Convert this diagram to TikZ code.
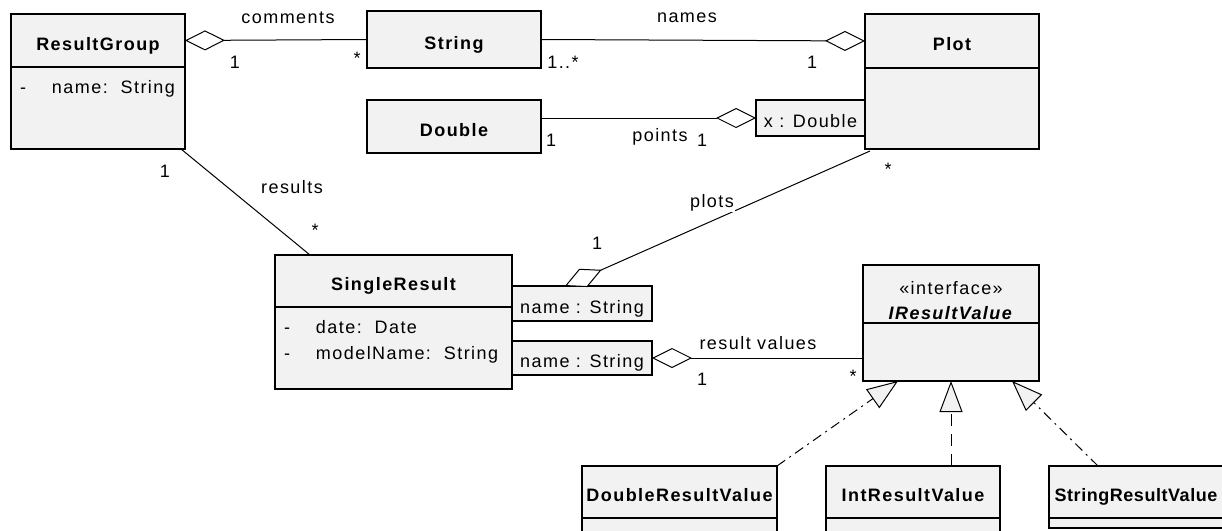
\documentclass[tikz,border=0pt]{standalone}
\usepackage{fontspec}
\setmainfont{Liberation Sans}[LetterSpace=8]
\usetikzlibrary{arrows.meta,positioning}
\definecolor{boxgray}{HTML}{F2F2F2}

\begin{document}
\begin{tikzpicture}[x=1pt,y=-1pt]
  \tikzset{
    every node/.style={font=\fontsize{18}{21}\selectfont, inner sep=0pt, outer sep=0pt},
    boxline/.style={draw, line width=1.4pt, fill=boxgray},
    head/.style={boxline, anchor=north west, font=\fontsize{18}{21}\selectfont\bfseries,
      text height=19.5pt, text depth=0pt},
    body/.style={boxline, below=0pt of #1},
    qual/.style={boxline, anchor=north west, text height=19.5pt, text depth=0pt},
    attrs/.style={anchor=north west, align=left, font=\fontsize{18}{26}\selectfont},
    assoc/.style={draw, line width=1pt},
    aggrstart/.style={assoc, arrows={Diamond[length=40pt,width=20pt,fill=white]-}},
    aggrend/.style={assoc, arrows={-Diamond[length=40pt,width=20pt,fill=white]}},
    realize/.style={assoc, arrows={-Triangle[length=31pt,width=23pt,fill=boxgray]}},
    dashdot/.style={dash pattern=on 10pt off 5pt on 2pt off 5pt}
  }
  \useasboundingbox (0,0) rectangle (1222,530);
  \clip (0,0) rectangle (1222,530);

  % classes
  \node[head, minimum width=174, minimum height=53] (rghead) at (11,14) {ResultGroup};
  \node[body=rghead, minimum width=174, minimum height=82] (rgbody) {};
  \node[attrs] (rgattr) at ([shift={(9pt,-13pt)}]rgbody.north west)
    {\makebox[32pt][l]{-}name:\ \ String};

  \node[head, minimum width=174, minimum height=57] (strbox) at (367,11) {String};
  \node[head, minimum width=174, minimum height=53] (dblbox) at (367,100) {Double};

  \node[head, minimum width=174, minimum height=54] (plothead) at (865,14) {Plot};
  \node[body=plothead, minimum width=174, minimum height=81] (plotbody) {};
  \node[qual, minimum width=109, minimum height=36] (xq) at (756,100) {x : Double};

  \node[head, minimum width=237, minimum height=52] (srhead) at (275,255) {SingleResult};
  \node[body=srhead, minimum width=237, minimum height=82] (srbody) {};
  \node[attrs] (srattr) at ([shift={(9pt,-13pt)}]srbody.north west)
    {\makebox[32pt][l]{-}date:\ \ Date\\
     \makebox[32pt][l]{-}modelName:\ \ String};
  \node[qual, minimum width=140, minimum height=35] (q1) at (512,286) {name : String};
  \node[qual, minimum width=140, minimum height=34] (q2) at (512,341) {name : String};

  \node[boxline, anchor=north west, minimum width=176, minimum height=58] (irvhead) at (863,265) {};
  \node[align=center, font=\fontsize{18}{25}\selectfont] (irvtitle) at ([yshift=-6.5pt]irvhead.center)
    {«interface»\\ \textbf{\textit{IResultValue}}};
  \node[body=irvhead, minimum width=176, minimum height=58] (irvbody) {};

  \node[head, minimum width=195, minimum height=52] (drvhead) at (582,466) {DoubleResultValue};
  \node[body=drvhead, minimum width=195, minimum height=40] (drvbody) {};
  \node[head, minimum width=174, minimum height=52] (inthead) at (826,466) {IntResultValue};
  \node[body=inthead, minimum width=174, minimum height=40] (intbody) {};
  \node[head, minimum width=174, minimum height=52,
    font=\fontsize{18}{21}\selectfont\bfseries\addfontfeature{LetterSpace=3}] (srvhead) at (1049,466) {StringResultValue};
  \node[body=srvhead, minimum width=174, minimum height=10] (srvbody) {};

  % associations
  \draw[aggrstart] (rghead.east) -- (strbox.west);
  \draw[aggrend] (strbox.east) -- (plothead.west);
  \draw[aggrend] (xq.west -| dblbox.east) -- (xq.west);
  \draw[assoc] ([xshift=-4pt]rgbody.south east) -- ([xshift=35pt]srhead.north west);
  \draw[aggrstart] ([xshift=53pt]q1.north west) -- ([shift={(5pt,-2pt)}]plotbody.south west);
  \draw[aggrstart] (q2.east) -- (q2.east -| irvbody.west);

  % realizations
  \draw[realize, dashdot] (drvhead.north east) -- ([xshift=35pt]irvbody.south west);
  \draw[realize, dash pattern=on 12pt off 8pt] (irvbody.south |- inthead.north) -- (irvbody.south);
  \draw[realize, dashdot] ([xshift=49pt]srvhead.north west) -- ([xshift=-27pt]irvbody.south east);

  % labels
  \node (lcomments) at (288,18) {comments};
  \node (mcomm1) at (235,62) {1};
  \node (mcomm2) at (357,58) {*};
  \node (lnames) at (687,18) {names};
  \node (mnames1) at (563,62) {1..*};
  \node (mnames2) at (812,62) {1};
  \node (lpoints) at (660,137) {points};
  \node (mpoints1) at (551,140) {1};
  \node (mpoints2) at (702,140) {1};
  \node (lresults) at (292,187) {results};
  \node (mresults1) at (165,171) {1};
  \node (mresults2) at (315,230) {*};
  \node[fill=white, inner sep=1pt] (lplots) at (712,203) {plots};
  \node (mplots1) at (597,243) {1};
  \node (mplots2) at (888,169) {*};
  \node (lvalues) at (758,343) {result values};
  \node (mvalues1) at (702,379) {1};
  \node (mvalues2) at (853,376) {*};
\end{tikzpicture}
\end{document}
